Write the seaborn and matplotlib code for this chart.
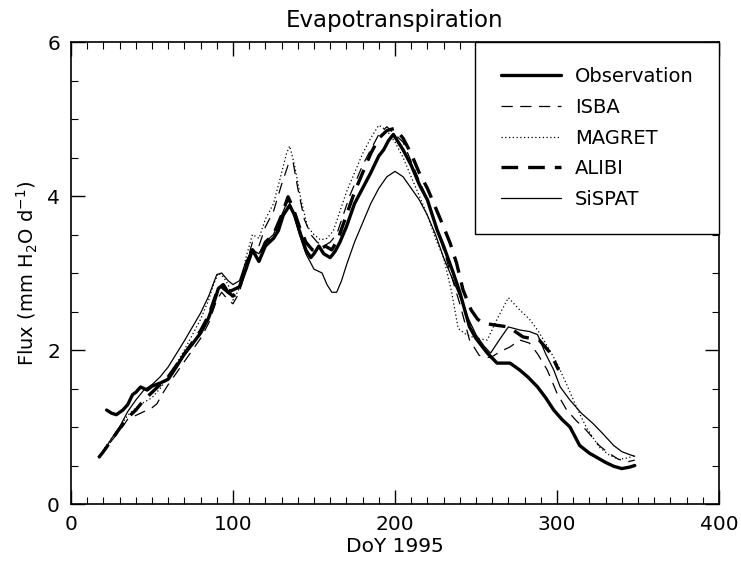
import matplotlib
matplotlib.use("Agg")
import matplotlib.pyplot as plt
from matplotlib.ticker import MultipleLocator
import pandas as pd
import seaborn as sns

sns.set_style("ticks")
plt.rcParams['font.family'] = ['DejaVu Sans']
plt.rcParams['font.size'] = 14
for k in ['text.color', 'axes.labelcolor', 'xtick.color', 'ytick.color']:
    plt.rcParams[k] = 'black'

# Observation (thick solid)
obs_doy = [22, 25, 28, 32, 35, 38, 40, 43, 47, 50, 55, 60, 65, 70, 75, 80, 85, 88, 91, 94,
           97, 100, 104, 108, 112, 116, 120, 125, 128, 131, 135, 138, 141, 145, 148, 150,
           153, 156, 160, 163, 166, 170, 175, 180, 185, 190, 193, 196, 199, 202, 205, 210,
           215, 220, 226, 230, 236, 240, 246, 250, 257, 263, 271, 277, 282, 288, 293, 298,
           303, 308, 314, 320, 325, 330, 335, 340, 345, 348]
obs_val = [1.22, 1.18, 1.16, 1.22, 1.29, 1.42, 1.45, 1.52, 1.48, 1.53, 1.57, 1.62, 1.78, 1.95,
           2.08, 2.22, 2.42, 2.60, 2.80, 2.85, 2.75, 2.78, 2.82, 3.05, 3.30, 3.15, 3.35, 3.45,
           3.55, 3.75, 3.88, 3.75, 3.55, 3.30, 3.20, 3.25, 3.35, 3.25, 3.20, 3.28, 3.40, 3.60,
           3.90, 4.10, 4.30, 4.52, 4.60, 4.72, 4.80, 4.70, 4.60, 4.40, 4.15, 3.95, 3.56, 3.35,
           3.00, 2.75, 2.30, 2.15, 1.96, 1.83, 1.83, 1.74, 1.65, 1.52, 1.38, 1.22, 1.10, 1.00,
           0.76, 0.66, 0.60, 0.54, 0.49, 0.46, 0.48, 0.50]

# ISBA (thin dashed)
isba_doy = [17, 20, 25, 30, 35, 40, 45, 50, 53, 57, 60, 65, 70, 75, 80, 85, 90, 93, 97, 100,
            104, 108, 112, 116, 120, 125, 130, 134, 137, 140, 144, 148, 152, 156, 160, 164,
            168, 172, 176, 180, 185, 190, 195, 200, 205, 210, 215, 220, 225, 230, 235, 240,
            246, 252, 259, 265, 271, 277, 283, 288, 294, 300, 306, 312, 318, 326, 332, 338,
            344, 348]
isba_val = [0.60, 0.68, 0.82, 0.95, 1.10, 1.15, 1.20, 1.25, 1.30, 1.45, 1.55, 1.70, 1.85, 2.00,
            2.15, 2.35, 2.65, 2.75, 2.65, 2.60, 2.75, 3.10, 3.40, 3.35, 3.60, 3.80, 4.15, 4.40,
            4.45, 4.10, 3.70, 3.50, 3.40, 3.35, 3.40, 3.50, 3.75, 4.00, 4.20, 4.40, 4.60, 4.80,
            4.90, 4.80, 4.70, 4.45, 4.20, 3.95, 3.65, 3.30, 2.95, 2.60, 2.13, 1.93, 1.90, 1.98,
            2.04, 2.13, 2.09, 1.95, 1.74, 1.44, 1.22, 1.08, 0.96, 0.76, 0.66, 0.58, 0.55, 0.57]

# MAGRET (dotted)
magret_doy = [17, 20, 25, 30, 35, 40, 45, 50, 55, 60, 65, 70, 75, 80, 85, 88, 91, 94, 97, 100,
              104, 108, 112, 116, 120, 125, 130, 133, 135, 138, 142, 146, 150, 154, 158, 162,
              166, 170, 175, 180, 185, 190, 195, 200, 205, 210, 215, 220, 225, 230, 235, 239,
              244, 250, 257, 263, 270, 277, 283, 288, 294, 300, 306, 312, 318, 326, 332, 338,
              344, 348]
magret_val = [0.60, 0.70, 0.85, 1.00, 1.15, 1.25, 1.32, 1.38, 1.50, 1.65, 1.82, 2.00, 2.20, 2.40,
              2.65, 2.85, 3.00, 2.95, 2.85, 2.65, 2.80, 3.20, 3.50, 3.45, 3.70, 3.90, 4.30, 4.55,
              4.65, 4.40, 3.95, 3.60, 3.50, 3.43, 3.45, 3.55, 3.80, 4.05, 4.30, 4.55, 4.75, 4.92,
              4.85, 4.70, 4.50, 4.25, 4.00, 3.75, 3.45, 3.20, 2.75, 2.28, 2.20, 2.15, 2.13, 2.40,
              2.68, 2.52, 2.40, 2.26, 2.05, 1.83, 1.55, 1.26, 1.00, 0.74, 0.64, 0.58, 0.60, 0.63]

# ALIBI (thick dashed)
alibi_doy = [17, 20, 25, 30, 35, 40, 45, 50, 55, 60, 65, 70, 75, 80, 85, 90, 93, 97, 100, 104,
             108, 112, 116, 120, 125, 130, 134, 137, 141, 145, 149, 153, 157, 161, 165, 170,
             175, 180, 185, 190, 195, 200, 205, 210, 215, 220, 225, 230, 234, 238, 242, 247,
             251, 254, 263, 270, 279, 289, 296, 301]
alibi_val = [0.60, 0.68, 0.83, 0.98, 1.12, 1.22, 1.35, 1.45, 1.55, 1.65, 1.80, 1.95, 2.10, 2.25,
             2.45, 2.75, 2.82, 2.75, 2.70, 2.80, 3.10, 3.30, 3.20, 3.40, 3.50, 3.75, 3.99, 3.85,
             3.60, 3.40, 3.30, 3.30, 3.35, 3.30, 3.45, 3.75, 4.05, 4.30, 4.55, 4.75, 4.85, 4.88,
             4.75, 4.55, 4.30, 4.10, 3.85, 3.60, 3.39, 3.13, 2.78, 2.52, 2.40, 2.35, 2.32, 2.30,
             2.17, 2.13, 1.96, 1.74]

# SiSPAT (thin solid)
sispat_doy = [17, 20, 25, 30, 35, 40, 45, 50, 55, 60, 65, 70, 75, 80, 85, 90, 93, 97, 100, 104,
              108, 112, 116, 120, 125, 130, 134, 137, 141, 145, 150, 155, 158, 161, 164, 167,
              170, 175, 180, 185, 190, 195, 200, 205, 210, 215, 220, 225, 230, 235, 240, 245,
              250, 255, 259, 265, 270, 277, 283, 288, 293, 298, 302, 308, 315, 322, 328, 335,
              340, 345, 348]
sispat_val = [0.60, 0.68, 0.85, 1.00, 1.20, 1.35, 1.48, 1.55, 1.65, 1.78, 1.95, 2.12, 2.30, 2.48,
              2.70, 2.98, 3.00, 2.90, 2.85, 2.90, 3.15, 3.30, 3.25, 3.40, 3.50, 3.75, 3.95, 3.80,
              3.50, 3.25, 3.05, 3.00, 2.85, 2.75, 2.75, 2.90, 3.10, 3.40, 3.65, 3.90, 4.10, 4.25,
              4.32, 4.25, 4.10, 3.95, 3.75, 3.50, 3.20, 2.95, 2.70, 2.42, 2.20, 2.05, 1.96, 2.15,
              2.30, 2.26, 2.24, 2.20, 1.95, 1.74, 1.52, 1.35, 1.18, 1.05, 0.92, 0.76, 0.68, 0.64,
              0.62]

series = [
    ("Observation", obs_doy, obs_val, dict(lw=2.4, ls="-")),
    ("ISBA", isba_doy, isba_val, dict(lw=0.9, ls=(0, (9, 6)))),
    ("MAGRET", magret_doy, magret_val, dict(lw=0.9, ls=(0, (1, 2)))),
    ("ALIBI", alibi_doy, alibi_val, dict(lw=2.4, ls=(0, (5, 3)))),
    ("SiSPAT", sispat_doy, sispat_val, dict(lw=0.9, ls="-")),
]

fig = plt.figure(figsize=(7.41, 5.61), dpi=100)
ax = fig.add_axes([0.0958, 0.1016, 0.8745, 0.8235])

for name, d, v, st in series:
    df = pd.DataFrame({"doy": d, "flux": v})
    sns.lineplot(data=df, x="doy", y="flux", ax=ax, color="black",
                 linewidth=st["lw"], linestyle=st["ls"], label=name)

ax.set_xlim(0, 400)
ax.set_ylim(0, 6)
ax.xaxis.set_major_locator(MultipleLocator(100))
ax.xaxis.set_minor_locator(MultipleLocator(10))
ax.yaxis.set_major_locator(MultipleLocator(2))
ax.yaxis.set_minor_locator(MultipleLocator(0.5))
ax.tick_params(which="both", direction="in", top=True, right=True, color="black")
ax.tick_params(which="major", length=10, width=1)
ax.tick_params(which="minor", length=5, width=0.8)
ax.tick_params(axis="both", labelsize=14.5, pad=8)
for sp in ax.spines.values():
    sp.set_linewidth(1.2)
    sp.set_color("black")

ax.set_title("Evapotranspiration", fontsize=16.5, pad=11)
ax.set_xlabel("DoY 1995", fontsize=14.5, labelpad=2)
ax.set_ylabel("Flux (mm H$_2$O d$^{-1}$)", fontsize=14, labelpad=5)

leg = ax.legend(loc="upper right", borderaxespad=0, fancybox=False, frameon=True,
                edgecolor="black", fontsize=14, handlelength=3.1, handletextpad=0.72,
                labelspacing=0.6, borderpad=1.3)
leg.get_frame().set_linewidth(1.0)
leg.get_frame().set_alpha(1)

fig.savefig("out.png", dpi=100)
